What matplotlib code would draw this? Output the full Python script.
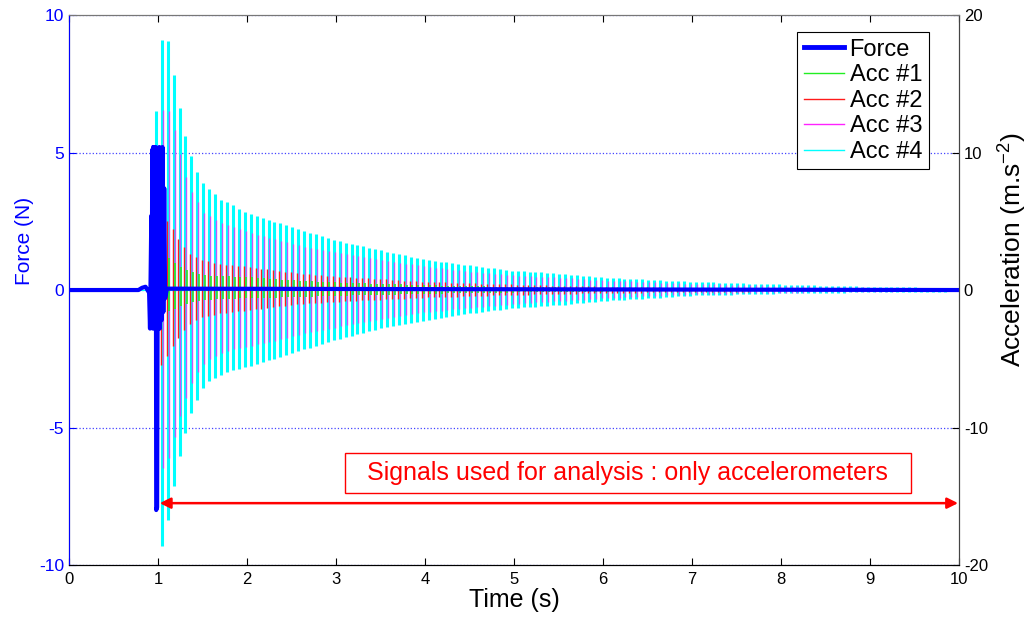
import numpy as np
import matplotlib
matplotlib.use("Agg")
import matplotlib.pyplot as plt
from matplotlib.lines import Line2D

plt.rcParams["font.family"] = ["Liberation Sans", "DejaVu Sans"]
plt.rcParams["mathtext.fontset"] = "custom"
plt.rcParams["mathtext.rm"] = "Liberation Sans"
plt.rcParams["axes.unicode_minus"] = False

# force signal (N)
force_t = [0.0, 0.78, 0.82, 0.86, 0.90, 0.91, 0.925, 0.930, 0.935, 0.940, 0.945,
           0.950, 0.955, 0.960, 0.965, 0.970, 0.975, 0.980, 0.990, 1.000, 1.010,
           1.015, 1.020, 1.030, 1.040, 1.050, 1.060, 1.070, 1.080, 1.10, 10.0]
force_v = [0.0, 0.0, 0.08, 0.12, -0.1, -1.4, 2.7, -1.2, 5.1, -1.4, 5.2,
           -1.3, 5.2, -1.4, 5.1, -1.2, 5.2, -8.0, -7.9, 5.0, -1.3,
           5.2, -1.4, 5.1, -1.1, 5.2, -0.8, 3.7, -0.3, 0.05, 0.0]

# acceleration peak envelopes (m.s^-2), read at these times
env_t = [0.95, 0.98, 1.03, 1.09, 1.16, 1.23, 1.30, 1.37, 1.44, 1.50, 1.57, 1.70, 1.83,
         2.0, 2.3, 2.6, 3.0, 3.5, 4.0, 4.5, 5.0, 5.5, 6.0, 7.0, 8.0, 9.0, 10.0]
acc1_up = [0, 1.5, 2.4, 2.4, 2.0, 1.7, 1.5, 1.35, 1.2, 1.1, 1.05, 1.0, 0.98,
           0.95, 0.8, 0.65, 0.55, 0.45, 0.35, 0.28, 0.22, 0.18, 0.14, 0.09, 0.06, 0.04, 0.02]
acc1_lo = [0, -1.2, -1.7, -1.6, -1.4, -1.2, -1.0, -0.9, -0.8, -0.75, -0.7, -0.65, -0.62,
           -0.6, -0.55, -0.5, -0.42, -0.35, -0.28, -0.22, -0.18, -0.14, -0.11, -0.07, -0.05, -0.03, -0.02]
acc2_up = [0, 3.0, 5.0, 5.2, 4.6, 3.8, 3.2, 2.6, 2.4, 2.2, 2.1, 1.9, 1.8,
           1.7, 1.45, 1.2, 1.0, 0.8, 0.6, 0.5, 0.4, 0.32, 0.25, 0.15, 0.1, 0.06, 0.04]
acc2_lo = [0, -4.0, -5.6, -5.0, -4.2, -3.6, -3.0, -2.5, -2.2, -2.0, -1.9, -1.7, -1.6,
           -1.5, -1.25, -1.0, -0.85, -0.7, -0.55, -0.45, -0.35, -0.28, -0.22, -0.14, -0.09, -0.05, -0.03]
acc3_up = [0, 10.0, 13.0, 13.4, 12.0, 10.2, 8.4, 7.2, 6.4, 5.6, 5.4, 4.9, 4.6,
           4.2, 3.7, 3.2, 2.7, 2.2, 1.7, 1.35, 1.05, 0.9, 0.7, 0.45, 0.3, 0.18, 0.1]
acc3_lo = [0, -12.0, -13.0, -12.6, -11.0, -9.4, -8.0, -6.8, -6.0, -5.4, -5.0, -4.6, -4.3,
           -4.1, -3.7, -3.2, -2.7, -2.1, -1.6, -1.3, -1.0, -0.8, -0.6, -0.3, -0.2, -0.12, -0.07]
acc4_up = [0, 15.6, 18.0, 18.8, 16.2, 13.6, 11.4, 9.8, 8.6, 7.8, 7.4, 6.6, 6.2,
           5.6, 5.0, 4.4, 3.6, 2.9, 2.2, 1.8, 1.4, 1.2, 0.9, 0.6, 0.4, 0.24, 0.14]
acc4_lo = [0, -19.0, -18.9, -17.4, -14.8, -12.4, -10.6, -9.0, -8.0, -7.2, -6.6, -6.2, -5.8,
           -5.6, -5.0, -4.4, -3.6, -2.8, -2.2, -1.7, -1.3, -1.1, -0.8, -0.4, -0.24, -0.16, -0.1]
RING_HZ = 15.0      # ringing frequency counted from the peaks
FIRST_PEAK = 0.975  # time of the first ringing cycle (s)

ACC_LABELS = ["Acc #1", "Acc #2", "Acc #3", "Acc #4"]
ACC_COLORS = ["#22ee22", "#ff1a1a", "#ff22ff", "#00ffff"]

fig = plt.figure(figsize=(10.3, 6.19), dpi=100)
ax = fig.add_axes([0.067, 0.0872, 0.864, 0.8885])
ax2 = ax.twinx()
ax.set_zorder(ax2.get_zorder() + 1)
ax.patch.set_visible(False)

# each ringing cycle spans only a few pixels, so draw it as a bar from the
# lower peak to the upper peak of that cycle
tk = np.arange(FIRST_PEAK, 10.0, 1.0 / RING_HZ)
ax2.plot([0, 10], [0, 0], color=ACC_COLORS[3], lw=0.8)
draw = [(3, 0.0, 2.2, 1.0), (2, 0.011, 1.0, 0.75), (1, -0.012, 1.0, 1.0), (0, 0.018, 1.2, 1.0)]
envs = [(acc1_up, acc1_lo), (acc2_up, acc2_lo), (acc3_up, acc3_lo), (acc4_up, acc4_lo)]
for i, dt, lw, alpha in draw:
    up, lo = envs[i]
    ax2.vlines(tk + dt, np.interp(tk, env_t, lo), np.interp(tk, env_t, up),
               color=ACC_COLORS[i], lw=lw, alpha=alpha)

ax.plot(force_t, force_v, color="#0000ff", lw=3)

ax.set_xlim(0, 10)
ax.set_ylim(-10, 10)
ax2.set_ylim(-20, 20)
ax.set_xticks(range(0, 11))
ax.set_yticks([-10, -5, 0, 5, 10])
ax2.set_yticks([-20, -10, 0, 10, 20])

ax2.grid(True, axis="x", color="#555555", linestyle=":", lw=0.9)
ax2.grid(True, axis="y", color="#4444ff", linestyle=":", lw=0.9)

ax.tick_params(axis="x", direction="in", top=True, length=5, labelsize=12, pad=5)
ax.tick_params(axis="y", direction="in", length=5, colors="#0000ff", labelsize=12.5)
ax2.tick_params(axis="y", direction="in", length=5, labelsize=12, colors="black")
ax.spines["left"].set_color("#0000ff")
ax.spines["top"].set_color("#777777")
ax.spines["right"].set_color("#444444")
ax2.spines["top"].set_color("#777777")
ax2.spines["right"].set_color("#444444")

ax.set_xlabel("Time (s)", fontsize=18, labelpad=1)
ax.set_ylabel("Force (N)", fontsize=15, color="#0000ff")
ax.yaxis.set_label_coords(-0.039, 0.589)
ax2.set_ylabel("Acceleration (m.s$^{-2}$)", fontsize=19)
ax2.yaxis.set_label_coords(1.041, 0.573)

handles = [Line2D([], [], color="#0000ff", lw=3.5)]
handles += [Line2D([], [], color=c, lw=1) for c in ACC_COLORS]
leg = ax.legend(handles, ["Force"] + ACC_LABELS, loc="upper right",
                bbox_to_anchor=(0.966, 0.969), borderaxespad=0, fontsize=17,
                fancybox=False, framealpha=1, edgecolor="black",
                handlelength=1.7, handletextpad=0.25, labelspacing=0.15,
                borderpad=0.28)
leg.get_frame().set_linewidth(0.8)

ax.text(6.28, -6.65, "  Signals used for analysis : only accelerometers  ",
        color="red", fontsize=18, ha="center", va="center",
        bbox=dict(boxstyle="square,pad=0.33", fc="white", ec="red", lw=1))
ax.annotate("", xy=(1.02, -7.75), xytext=(9.99, -7.75),
            arrowprops=dict(arrowstyle="<|-|>", color="red", lw=1.8,
                            mutation_scale=16, shrinkA=0, shrinkB=0))

fig.savefig("out.png", dpi=100, facecolor="white")
